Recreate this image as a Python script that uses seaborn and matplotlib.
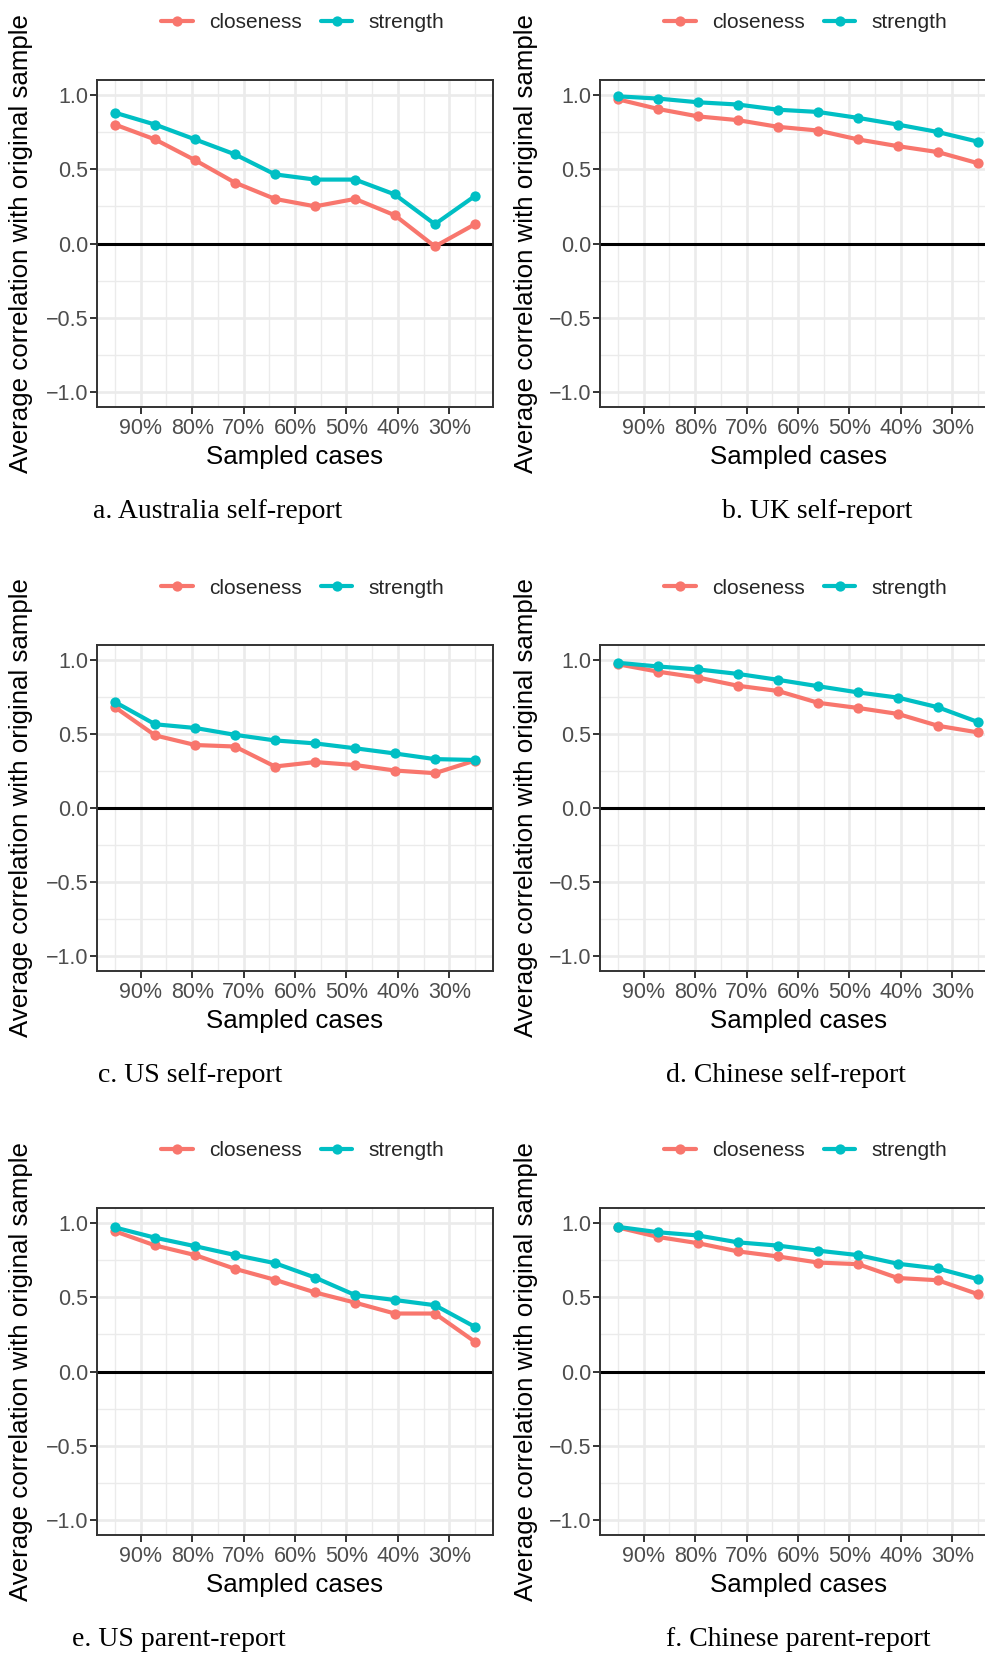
import matplotlib
matplotlib.use("Agg")
import matplotlib.pyplot as plt
from matplotlib.lines import Line2D
from matplotlib.ticker import FixedLocator
import numpy as np
import pandas as pd
import seaborn as sns

# ---- data -------------------------------------------------------------
sampled_pct = [95.0, 87.2, 79.4, 71.7, 63.9, 56.1, 48.3, 40.6, 32.8, 25.0]
x_ticks = [90, 80, 70, 60, 50, 40, 30]
x_tick_labels = ["90%", "80%", "70%", "60%", "50%", "40%", "30%"]
y_ticks = [-1.0, -0.5, 0.0, 0.5, 1.0]
y_tick_labels = ["\u22121.0", "\u22120.5", "0.0", "0.5", "1.0"]
measures = ["closeness", "strength"]
palette = {"closeness": "#F8766D", "strength": "#00BFC4"}

aus_closeness = [0.80, 0.70, 0.56, 0.41, 0.30, 0.25, 0.30, 0.19, -0.02, 0.13]
aus_strength = [0.88, 0.80, 0.70, 0.60, 0.465, 0.43, 0.43, 0.33, 0.13, 0.32]
uk_closeness = [0.97, 0.905, 0.855, 0.83, 0.785, 0.76, 0.70, 0.655, 0.615, 0.54]
uk_strength = [0.99, 0.975, 0.95, 0.935, 0.90, 0.885, 0.845, 0.80, 0.75, 0.685]
us_self_closeness = [0.68, 0.49, 0.425, 0.415, 0.28, 0.31, 0.29, 0.253, 0.235, 0.32]
us_self_strength = [0.715, 0.565, 0.54, 0.494, 0.456, 0.436, 0.403, 0.368, 0.33, 0.324]
cn_self_closeness = [0.97, 0.92, 0.88, 0.825, 0.79, 0.71, 0.675, 0.635, 0.555, 0.51]
cn_self_strength = [0.98, 0.955, 0.935, 0.905, 0.865, 0.822, 0.78, 0.745, 0.68, 0.58]
us_parent_closeness = [0.943, 0.848, 0.783, 0.691, 0.617, 0.532, 0.463, 0.39, 0.39, 0.20]
us_parent_strength = [0.969, 0.90, 0.843, 0.784, 0.729, 0.632, 0.514, 0.481, 0.446, 0.30]
cn_parent_closeness = [0.969, 0.905, 0.863, 0.808, 0.774, 0.733, 0.722, 0.629, 0.614, 0.52]
cn_parent_strength = [0.973, 0.937, 0.915, 0.869, 0.847, 0.813, 0.783, 0.725, 0.693, 0.621]

captions = ["a. Australia self-report", "b. UK self-report",
            "c. US self-report", "d. Chinese self-report",
            "e. US parent-report", "f. Chinese parent-report"]
panel_series = [
    (aus_closeness, aus_strength),
    (uk_closeness, uk_strength),
    (us_self_closeness, us_self_strength),
    (cn_self_closeness, cn_self_strength),
    (us_parent_closeness, us_parent_strength),
    (cn_parent_closeness, cn_parent_strength),
]

# ---- styling ----------------------------------------------------------
sns.set_theme(style="white")
plt.rcParams["font.family"] = ["Liberation Sans", "DejaVu Sans"]

W, H = 985, 1655
fig = plt.figure(figsize=(W / 100, H / 100), dpi=100)
fig.patch.set_facecolor("white")

# pixel layout of the grid (box left per column, box top/bottom per row)
col_left = [97, 600]
col_ylabel_x = [21.5, 526.5]
box_w = 396
row_box = [(80, 407), (645, 971), (1208, 1535)]
caption_xy = [(93, 511), (722, 511), (98, 1075), (666, 1075), (72, 1639), (666, 1639)]

grey20 = "#333333"
grey30 = "#4D4D4D"
gridc = "#EBEBEB"
lw_line = 3.0
ms_point = 7.4

for i, (clo, stre) in enumerate(panel_series):
    r, c = divmod(i, 2)
    top, bot = row_box[r]
    left = col_left[c]
    ax = fig.add_axes([left / W, 1 - bot / H, box_w / W, (bot - top) / H])

    df = pd.DataFrame({
        "sampled": sampled_pct * 2,
        "corr": list(clo) + list(stre),
        "measure": ["closeness"] * len(clo) + ["strength"] * len(stre),
    })
    ax.axhline(0, color="black", lw=2.2, zorder=1.5)
    sns.lineplot(data=df, x="sampled", y="corr", hue="measure", hue_order=measures,
                 palette=palette, marker="o", markersize=ms_point, linewidth=lw_line,
                 markeredgewidth=0, legend=False, ax=ax, zorder=3)

    ax.set_xlim(98.5, 21.5)
    ax.set_ylim(-1.1, 1.1)
    ax.set_xticks(x_ticks)
    ax.set_xticklabels(x_tick_labels)
    ax.set_yticks(y_ticks)
    ax.set_yticklabels(y_tick_labels)
    ax.xaxis.set_minor_locator(FixedLocator([95, 85, 75, 65, 55, 45, 35, 25]))
    ax.yaxis.set_minor_locator(FixedLocator([-0.75, -0.25, 0.25, 0.75]))
    ax.set_axisbelow(True)
    ax.grid(which="major", color=gridc, lw=1.9)
    ax.grid(which="minor", color=gridc, lw=1.0)
    ax.tick_params(which="major", length=5, width=1.4, color=grey20,
                   labelsize=15.5, labelcolor=grey30, pad=1.5,
                   bottom=True, left=True)
    ax.tick_params(axis="x", which="major", pad=3)
    ax.tick_params(which="minor", length=0)
    for sp in ax.spines.values():
        sp.set_color(grey20)
        sp.set_linewidth(1.4)
    ax.set_xlabel("")
    ax.set_ylabel("")
    ax.set_facecolor("white")

    # axis titles
    cx = left + box_w / 2
    fig.text(cx / W, 1 - (bot + 50) / H, "Sampled cases", ha="center", va="center",
             fontsize=18.6, color="black")
    fig.text(col_ylabel_x[c] / W, 1 - ((top + bot) / 2) / H,
             "Average correlation with original sample", rotation=90,
             ha="center", va="center", fontsize=18.6, color="black")

    # legend above the panel
    handles = [Line2D([], [], color=palette[m], marker="o", lw=lw_line, ms=ms_point,
                      markeredgewidth=0) for m in measures]
    fig.legend(handles, measures, loc="center", ncol=2, frameon=False,
               bbox_to_anchor=((cx + 8) / W, 1 - (top - 57) / H),
               fontsize=15, handlelength=1.5, handletextpad=0.8,
               columnspacing=0.9, borderpad=0, borderaxespad=0)

    # caption
    capx, capy = caption_xy[i]
    fig.text(capx / W, 1 - capy / H, captions[i], ha="left", va="center",
             fontsize=20, family="Liberation Serif", color="black")

fig.savefig("out.png", dpi=100, facecolor="white")
